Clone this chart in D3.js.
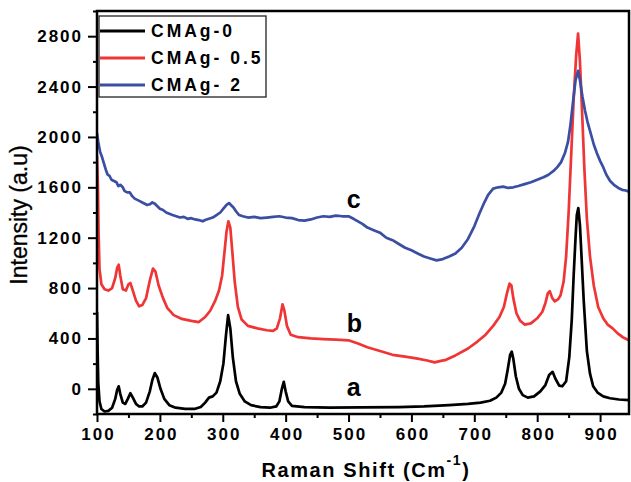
<!DOCTYPE html>
<html lang="en">
<head>
    <meta charset="UTF-8">
    <script src="https://d3js.org/d3.v7.min.js"></script>
    <style>
        body { margin: 0; background: #fff; }
        text { font-family: "Liberation Sans", Arial, sans-serif; }
    </style>
    <title>Raman</title>
</head>
<body>
    <script type="text/javascript">
    // spectra: [raman shift, intensity]
    const cmag0 = [
        [100, 610], [101, 300], [102, 50], [104, -100], [107, -160], [112, -180], [118, -175],
        [124, -150], [129, -80], [132, -10], [134.5, 20], [137, -40], [141, -110], [145, -120],
        [149, -80], [153, -35], [157, -70], [162, -120], [167, -140], [172, -140], [178, -110],
        [184, -20], [188, 70], [192, 125], [196, 90], [201, 0], [207, -80], [215, -130],
        [225, -150], [240, -160], [255, -160], [265, -145], [272, -110], [278, -70], [284, -60],
        [290, -30], [296, 60], [301, 200], [305, 420], [308.5, 585], [312, 480], [316, 250],
        [321, 60], [327, -40], [335, -100], [345, -130], [360, -145], [375, -150], [385, -140],
        [390, -100], [394, 0], [397, 55], [400, -20], [404, -100], [410, -135], [430, -145],
        [470, -150], [520, -148], [580, -145], [620, -140], [660, -130], [690, -120], [710, -110],
        [725, -95], [735, -70], [743, -30], [749, 40], [753, 150], [757, 270], [759.5, 295],
        [762, 240], [766, 100], [771, 0], [777, -50], [785, -70], [795, -60], [805, -20],
        [813, 30], [819, 110], [824.5, 135], [829, 80], [835, 25], [840, 20], [846, 60],
        [851, 250], [855, 550], [858, 900], [861, 1200], [863, 1380], [865.4, 1435], [868, 1300],
        [871, 1000], [874, 700], [879, 300], [884, 120], [889, 20], [896, -30], [905, -60],
        [916, -75], [930, -85], [946, -90]
    ];
    const cmag05 = [
        [100, 1850], [101.5, 1600], [102.5, 1250], [104, 950], [107, 830], [112, 790], [118, 780],
        [124, 800], [129, 880], [132, 960], [134.5, 985], [137, 900], [141, 790], [146, 780],
        [150, 830], [153, 840], [157, 780], [162, 700], [167, 655], [172, 665], [178, 720],
        [184, 860], [189, 955], [193, 930], [198, 820], [205, 720], [212, 640], [222, 585],
        [235, 555], [250, 540], [262, 530], [272, 570], [280, 620], [288, 700], [294, 780],
        [299, 900], [303, 1100], [306, 1250], [309, 1330], [312, 1280], [315, 1100], [319, 850],
        [324, 650], [330, 550], [340, 500], [355, 480], [370, 465], [380, 460], [386, 480],
        [391, 560], [395, 670], [398, 620], [402, 500], [408, 430], [420, 410], [440, 400],
        [460, 395], [480, 390], [500, 385], [515, 360], [530, 330], [550, 300], [570, 270],
        [590, 255], [610, 240], [625, 225], [637, 210], [645, 220], [655, 230], [670, 265],
        [690, 320], [705, 375], [718, 430], [730, 500], [740, 570], [747, 650], [752, 760],
        [756, 835], [759, 820], [762, 720], [767, 600], [773, 540], [780, 510], [790, 520],
        [800, 560], [808, 610], [813, 680], [817, 760], [820, 775], [824, 720], [828, 695],
        [833, 710], [837, 740], [842, 850], [846, 1050], [850, 1400], [854, 1850], [858, 2300],
        [862, 2650], [865, 2820], [868, 2600], [871, 2250], [875, 1750], [879, 1350], [884, 1050],
        [890, 820], [897, 650], [905, 560], [912, 510], [920, 480], [928, 440], [936, 410],
        [946, 385]
    ];
    const cmag2 = [
        [100, 2030], [102, 1960], [105, 1880], [108, 1840], [111, 1790], [114, 1740], [117, 1700],
        [120, 1690], [123, 1660], [127, 1650], [131, 1640], [134, 1610], [137, 1620], [141, 1600],
        [144, 1570], [148, 1560], [152, 1560], [156, 1530], [160, 1510], [164, 1500], [168, 1490],
        [172, 1480], [176, 1470], [180, 1460], [184, 1465], [188, 1480], [192, 1470], [196, 1450],
        [200, 1430], [205, 1420], [210, 1400], [215, 1390], [220, 1380], [226, 1370], [232, 1360],
        [238, 1365], [244, 1350], [250, 1355], [256, 1345], [262, 1340], [268, 1330], [272, 1340],
        [278, 1350], [284, 1360], [290, 1380], [296, 1400], [301, 1430], [306, 1460], [310, 1475],
        [313, 1460], [317, 1440], [321, 1410], [326, 1380], [332, 1370], [340, 1360], [350, 1365],
        [360, 1355], [370, 1360], [380, 1365], [390, 1370], [400, 1360], [410, 1355], [420, 1340],
        [430, 1335], [440, 1345], [450, 1360], [460, 1370], [470, 1365], [480, 1375], [490, 1370],
        [500, 1370], [508, 1350], [515, 1330], [522, 1310], [530, 1280], [540, 1260], [550, 1240],
        [560, 1200], [570, 1180], [580, 1150], [590, 1120], [600, 1100], [610, 1075], [620, 1050],
        [630, 1035], [640, 1020], [650, 1030], [660, 1050], [670, 1075], [680, 1120], [690, 1190],
        [700, 1290], [708, 1390], [715, 1470], [722, 1540], [730, 1590], [738, 1600], [746, 1605],
        [754, 1595], [762, 1600], [770, 1610], [780, 1625], [790, 1640], [800, 1660], [810, 1680],
        [818, 1700], [826, 1730], [832, 1760], [838, 1800], [844, 1870], [849, 1960], [853, 2100],
        [857, 2280], [861, 2450], [865, 2525], [868, 2450], [872, 2320], [876, 2210], [880, 2120],
        [885, 2030], [890, 1940], [895, 1870], [900, 1810], [905, 1760], [910, 1700], [916, 1650],
        [922, 1620], [929, 1595], [935, 1580], [941, 1575], [946, 1565]
    ];

    const seriesNames = ["CMAg-0", "CMAg- 0.5", "CMAg- 2"];
    const seriesColors = ["#000000", "#ef3535", "#3a4ea3"];
    const curveLabels = [["a", -60], ["b", 455], ["c", 1435]]; // letter, intensity of its baseline
    const xTicks = [100, 200, 300, 400, 500, 600, 700, 800, 900];
    const yTicks = [0, 400, 800, 1200, 1600, 2000, 2400, 2800];

    const w = 631;
    const h = 482;
    const padL = 97, padR = 629, padT = 11, padB = 414;

    const x = d3.scaleLinear([100, 946], [padL, padR]);
    const y = d3.scaleLinear([-200, 3000], [padB, padT]);

    const svg = d3.select("body")
        .append("svg")
        .attr("width", w)
        .attr("height", h);

    // curves
    const line = d3.line()
        .x(function(d) { return x(d[0]); })
        .y(function(d) { return y(d[1]); });

    svg.append("clipPath").attr("id", "plot")
        .append("rect")
        .attr("x", padL).attr("y", padT)
        .attr("width", padR - padL).attr("height", padB - padT);

    svg.append("g")
        .attr("clip-path", "url(#plot)")
        .selectAll("path")
        .data([cmag0, cmag05, cmag2])
        .enter()
        .append("path")
        .attr("d", line)
        .attr("fill", "none")
        .attr("stroke", function(d, i) { return seriesColors[i]; })
        .attr("stroke-width", 2.7)
        .attr("stroke-linejoin", "round");

    // axes: major ticks labelled, minor in between
    svg.append("g")
        .attr("transform", "translate(0," + padB + ")")
        .call(d3.axisBottom(x).tickValues(d3.range(150, 946, 100)).tickSize(4).tickFormat(""));
    svg.append("g")
        .attr("transform", "translate(0," + padB + ")")
        .call(d3.axisBottom(x).tickValues(xTicks).tickSize(8).tickPadding(6).tickFormat(d3.format("d")))
        .call(function(g) {
            g.selectAll("text")
                .attr("font-size", "17px")
                .attr("font-weight", "bold")
                .attr("letter-spacing", "2px")
                .attr("dx", "1px")
                .attr("fill", "#000");
        });

    svg.append("g")
        .attr("transform", "translate(" + padL + ",0)")
        .call(d3.axisLeft(y).tickValues(d3.range(-200, 3001, 400)).tickSize(4).tickFormat(""));
    svg.append("g")
        .attr("transform", "translate(" + padL + ",0)")
        .call(d3.axisLeft(y).tickValues(yTicks).tickSize(9).tickPadding(5).tickFormat(d3.format("d")))
        .call(function(g) {
            g.selectAll("text")
                .attr("font-size", "17px")
                .attr("font-weight", "bold")
                .attr("letter-spacing", "2px")
                .attr("fill", "#000");
        });

    svg.selectAll(".domain").remove();
    svg.selectAll(".tick line").attr("stroke", "#000").attr("stroke-width", 2);

    svg.append("rect")
        .attr("x", padL).attr("y", padT)
        .attr("width", padR - padL).attr("height", padB - padT)
        .attr("fill", "none")
        .attr("stroke", "#000")
        .attr("stroke-width", 2.5);

    // axis titles
    const xt = svg.append("text")
        .attr("x", 366).attr("y", 477)
        .attr("text-anchor", "middle")
        .attr("font-size", "20px")
        .attr("font-weight", "bold")
        .attr("letter-spacing", "1.6px");
    xt.append("tspan").text("Raman Shift (Cm");
    xt.append("tspan").attr("dy", -12).attr("font-size", "14px").text("-1");
    xt.append("tspan").attr("dy", 12).text(")");

    svg.append("text")
        .attr("transform", "translate(27,215) rotate(-90)")
        .attr("text-anchor", "middle")
        .attr("font-size", "23px")
        .attr("stroke", "#000")
        .attr("stroke-width", 0.3)
        .text("Intensity (a.u)");

    // curve letters
    svg.selectAll("text.lab")
        .data(curveLabels)
        .enter()
        .append("text")
        .attr("class", "lab")
        .attr("x", x(497))
        .attr("y", function(d) { return y(d[1]); })
        .attr("font-size", "25px")
        .attr("font-weight", "bold")
        .text(function(d) { return d[0]; });

    // legend
    const legend = svg.append("g");
    legend.append("rect")
        .attr("x", 99).attr("y", 16)
        .attr("width", 167).attr("height", 81)
        .attr("fill", "#fff")
        .attr("stroke", "#222")
        .attr("stroke-width", 1.3);
    const rows = legend.selectAll("g.row")
        .data(seriesNames)
        .enter()
        .append("g")
        .attr("transform", function(d, i) { return "translate(0," + (31 + i * 27) + ")"; });
    rows.append("line")
        .attr("x1", 100).attr("x2", 145)
        .attr("stroke", function(d, i) { return seriesColors[i]; })
        .attr("stroke-width", 3);
    rows.append("text")
        .attr("x", 151).attr("y", 6)
        .attr("font-size", "17.5px")
        .attr("font-weight", "bold")
        .attr("letter-spacing", "3px")
        .text(function(d) { return d; });
    </script>
</body>
</html>
